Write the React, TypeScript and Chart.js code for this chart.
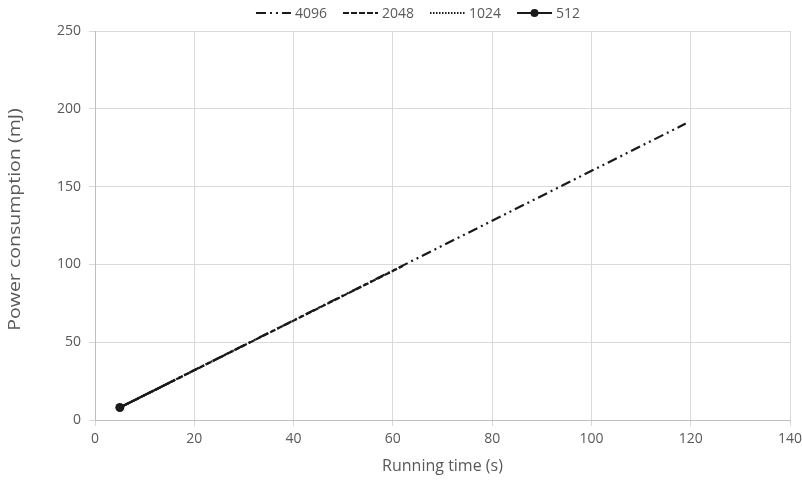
import React, { useEffect, useRef } from "react";
import { Chart, registerables } from "chart.js";

Chart.register(...registerables);

const seriesLabels = ["4096", "2048", "1024", "512"];
const seriesX = [
  [5, 119],
  [5, 62],
  [5, 30],
  [5, 15],
];
const seriesY = [
  [8, 190.5],
  [8, 99],
  [8, 48],
  [8, 24],
];
const seriesDash = [
  [10, 4, 2, 4, 2, 4],
  [6, 2],
  [1.5, 1.5],
  [],
];
const xTicks = [0, 20, 40, 60, 80, 100, 120, 140];
const yTicks = [0, 50, 100, 150, 200, 250];
const xTitle = "Running time (s)";
const yTitle = "Power consumption (mJ)";

const FONT = "'Open Sans', 'Liberation Sans', sans-serif";
const TEXT = "#595959";

const legendPlugin = {
  id: "customLegend",
  afterDraw(chart: any) {
    const ctx = chart.ctx;
    ctx.save();
    ctx.font = `14px ${FONT}`;
    const sample = 35;
    const gap = 4;
    const between = 16;
    const items = chart.data.datasets.map((d: any) => ({
      d,
      w: sample + gap + ctx.measureText(d.label).width,
    }));
    const total = items.reduce((a: number, b: any) => a + b.w, 0) + between * (items.length - 1);
    let x = 418 - total / 2;
    const y = 13;
    items.forEach((it: any) => {
      const d = it.d;
      ctx.strokeStyle = d.borderColor;
      ctx.lineWidth = 2;
      ctx.setLineDash(d.borderDash || []);
      ctx.beginPath();
      ctx.moveTo(x, y);
      ctx.lineTo(x + sample, y);
      ctx.stroke();
      ctx.setLineDash([]);
      if (d.label === "512") {
        ctx.fillStyle = d.borderColor;
        ctx.beginPath();
        ctx.arc(x + sample / 2, y, 4, 0, Math.PI * 2);
        ctx.fill();
      }
      ctx.fillStyle = TEXT;
      ctx.textBaseline = "middle";
      ctx.textAlign = "left";
      ctx.fillText(d.label, x + sample + gap, y + 1);
      x += it.w + between;
    });

    // Y axis title (stretched along its length like the reference)
    const area = chart.chartArea;
    ctx.translate(15, (area.top + area.bottom) / 2 - 6);
    ctx.rotate(-Math.PI / 2);
    ctx.scale(1.22, 1);
    ctx.font = `16px ${FONT}`;
    ctx.fillStyle = TEXT;
    ctx.textAlign = "center";
    ctx.textBaseline = "middle";
    ctx.fillText(yTitle, 0, 0);
    ctx.restore();
  },
};

export default function App() {
  const ref = useRef<HTMLCanvasElement>(null);
  useEffect(() => {
    document.body.style.margin = "0";
    const datasets = seriesLabels.map((label, i) => ({
      label,
      data: seriesX[i].map((x, j) => ({ x, y: seriesY[i][j] })),
      borderColor: "#1a1a1a",
      backgroundColor: "#1a1a1a",
      borderWidth: 2.2,
      borderDash: seriesDash[i],
      pointRadius: label === "512" ? [4.5, 0] : 0,
      pointBackgroundColor: "#1a1a1a",
      pointBorderWidth: 0,
      tension: 0,
      order: seriesLabels.length - i,
    }));
    const chart = new Chart(ref.current!, {
      type: "line",
      data: { datasets },
      options: {
        animation: false,
        responsive: false,
        layout: { padding: { top: 31, right: 0, left: 0, bottom: 0 } },
        plugins: { legend: { display: false }, tooltip: { enabled: false } },
        scales: {
          x: {
            type: "linear",
            min: 0,
            max: 140,
            afterBuildTicks: (s: any) => {
              s.ticks = xTicks.map((v) => ({ value: v }));
            },
            afterFit: (s: any) => {
              s.height = 60;
              s.paddingRight = 12;
              s.paddingLeft = 0;
            },
            grid: { color: "#d9d9d9", lineWidth: 1, tickLength: 6 },
            border: { color: "#bfbfbf" },
            ticks: { color: TEXT, font: { family: FONT, size: 14 }, padding: 5, maxRotation: 0 },
            title: {
              display: true,
              text: xTitle,
              color: TEXT,
              font: { family: FONT, size: 16 },
              padding: { top: 6 },
            },
          },
          y: {
            type: "linear",
            min: 0,
            max: 250,
            afterBuildTicks: (s: any) => {
              s.ticks = yTicks.map((v) => ({ value: v }));
            },
            afterFit: (s: any) => {
              s.width = 95;
            },
            grid: { color: "#d9d9d9", lineWidth: 1, tickLength: 6 },
            border: { color: "#bfbfbf" },
            ticks: { color: TEXT, font: { family: FONT, size: 14 }, padding: 8 },
          },
        },
      },
      plugins: [legendPlugin],
    });
    return () => chart.destroy();
  }, []);
  return (
    <div style={{ width: 802, height: 480 }}>
      <canvas ref={ref} width={802} height={480} style={{ width: 802, height: 480 }} />
    </div>
  );
}
